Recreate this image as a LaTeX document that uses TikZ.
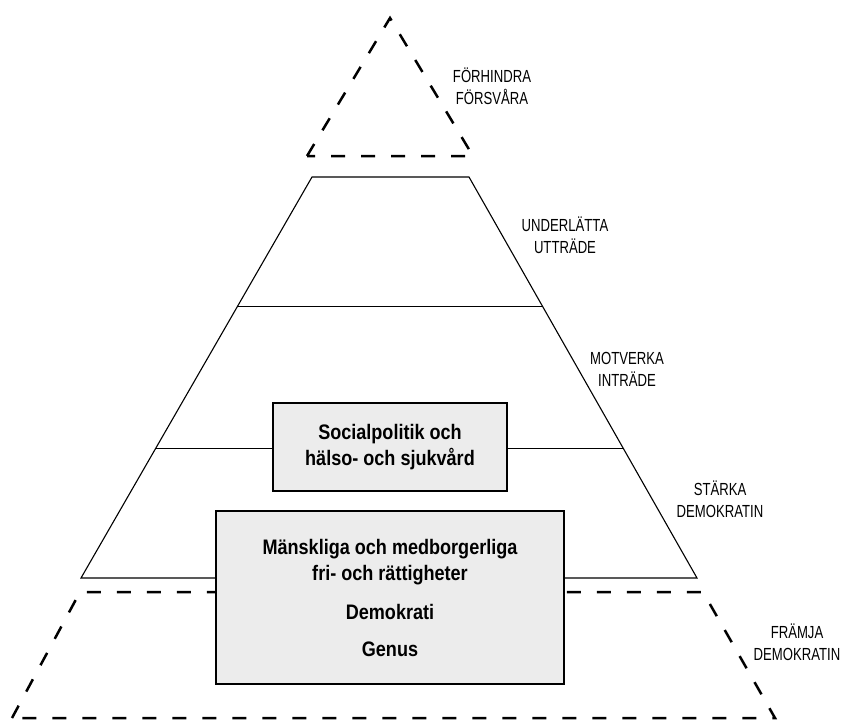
\documentclass[tikz,border=0pt]{standalone}
\usepackage{fontspec}
\setmainfont{Liberation Sans}[FakeStretch=0.75]
\newfontfamily\boxfont{Liberation Sans}[FakeStretch=0.86]
\usetikzlibrary{calc}
\definecolor{boxgray}{RGB}{236,236,236}

\begin{document}
\begin{tikzpicture}[
            x=1pt, y=-1pt,
            level/.style = {line width=1.1pt, line join=miter},
            outer/.style = {line width=2.5pt, dash pattern=on 14pt off 16pt},
            textbox/.style = {draw, line width=1.1pt, fill=boxgray, align=center, font=\boxfont\bfseries\fontsize{21}{26}\selectfont},
            stage/.style = {align=center, font=\fontsize{17.5}{22}\selectfont}
          ]
          \useasboundingbox (0,0) rectangle (843,721);

          % top: dashed triangle
          \coordinate (apex) at (390,18);
          \coordinate (apex_l) at (307,156);
          \coordinate (apex_r) at (473,156);
          \draw[outer] (apex_l) -- (apex) -- (apex_r) -- cycle;

          % middle: solid trapezoid
          \coordinate (tl) at (312,177);
          \coordinate (tr) at (469,177);
          \coordinate (bl) at (81,578);
          \coordinate (br) at (697,578);
          \draw[level] (bl) -- (tl) -- (tr) -- (br) -- cycle;

          \coordinate (l1) at ($(tl)!0.324!(bl)$);
          \coordinate (r1) at ($(tr)!0.324!(br)$);
          \coordinate (l2) at ($(tl)!0.678!(bl)$);
          \coordinate (r2) at ($(tr)!0.678!(br)$);
          \draw[level] (l1) -- (r1);

          % bottom: dashed trapezoid
          \coordinate (base_tl) at (80,592);
          \coordinate (base_tr) at (703,592);
          \coordinate (base_bl) at (12,718);
          \coordinate (base_br) at (775,718);
          \draw[outer] (base_bl) -- (base_tl) -- (base_tr) -- (base_br) -- cycle;

          \node[textbox, minimum width=234pt, minimum height=88pt] (social) at (390,447) {Socialpolitik och\\hälso- och sjukvård};
          \node[textbox, minimum width=348pt, minimum height=173pt] (rights) at (390,597.5) {Mänskliga och medborgerliga\\fri- och rättigheter\\[13pt]Demokrati\\[11pt]Genus};

          \draw[level] (l2) -- (l2 -| social.west);
          \draw[level] (l2 -| social.east) -- (r2);

          \node[stage] (prevent) at (492,86) {FÖRHINDRA\\FÖRSVÅRA};
          \node[stage] (exit) at (565,235) {UNDERLÄTTA\\UTTRÄDE};
          \node[stage] (entry) at (627,369) {MOTVERKA\\INTRÄDE};
          \node[stage] (strengthen) at (720,499) {STÄRKA\\DEMOKRATIN};
          \node[stage] (promote) at (797,642) {FRÄMJA\\DEMOKRATIN};
        \end{tikzpicture}
\end{document}
